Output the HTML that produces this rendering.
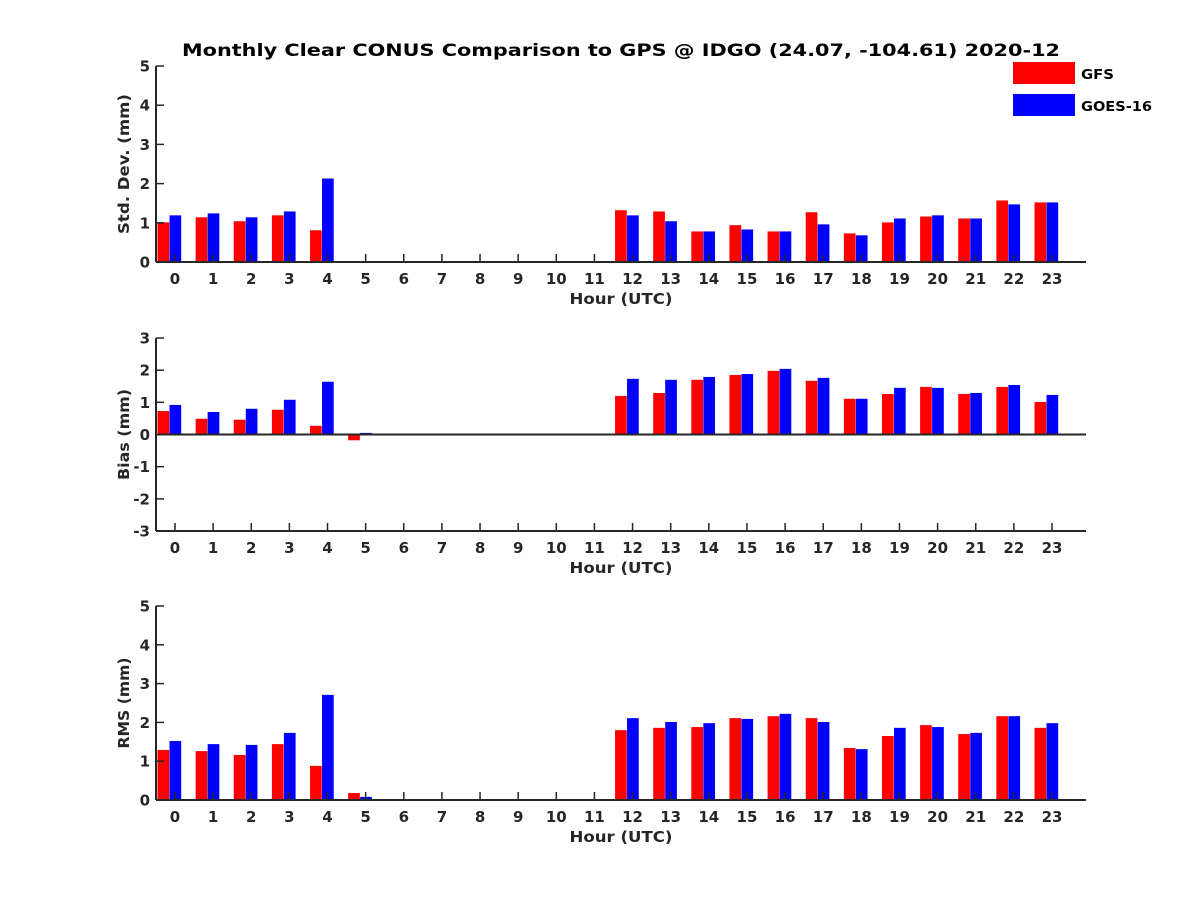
<!DOCTYPE html>
<html><head><meta charset="utf-8"><style>
body{margin:0;background:#fff;}
svg{display:block;font-family:"DejaVu Sans","Liberation Sans",sans-serif;font-weight:bold;}
</style></head><body>
<svg id="chart" width="1200" height="900" viewBox="0 0 1200 900">
<rect width="1200" height="900" fill="#fff"/>
<text x="621" y="56" text-anchor="middle" font-size="17" textLength="878" lengthAdjust="spacingAndGlyphs" fill="#000">Monthly Clear CONUS Comparison to GPS @ IDGO (24.07, -104.61) 2020-12</text>
<g>
<rect x="1013" y="62" width="62" height="22" fill="#f00"/>
<text x="1081" y="79" font-size="13" textLength="33" lengthAdjust="spacingAndGlyphs">GFS</text>
<rect x="1013" y="94" width="62" height="22" fill="#00f"/>
<text x="1081" y="111" font-size="13" textLength="71" lengthAdjust="spacingAndGlyphs">GOES-16</text>
</g>
</svg>
<script>
const hours = [0,1,2,3,4,5,6,7,8,9,10,11,12,13,14,15,16,17,18,19,20,21,22,23];
const stdGFS  = [1.01,1.14,1.04,1.19,0.81,0,0,0,0,0,0,0,1.32,1.29,0.78,0.94,0.78,1.27,0.73,1.01,1.16,1.11,1.57,1.52];
const stdGOES = [1.19,1.24,1.14,1.29,2.13,0,0,0,0,0,0,0,1.19,1.04,0.78,0.83,0.78,0.96,0.68,1.11,1.19,1.11,1.47,1.52];
const biasGFS  = [0.73,0.49,0.46,0.77,0.27,-0.18,0,0,0,0,0,0,1.20,1.29,1.70,1.85,1.98,1.67,1.11,1.26,1.48,1.26,1.48,1.01];
const biasGOES = [0.92,0.70,0.80,1.08,1.64,0.05,0,0,0,0,0,0,1.73,1.70,1.79,1.88,2.04,1.76,1.11,1.45,1.45,1.29,1.54,1.23];
const rmsGFS  = [1.29,1.26,1.16,1.44,0.88,0.18,0,0,0,0,0,0,1.80,1.86,1.88,2.11,2.16,2.11,1.34,1.65,1.93,1.70,2.16,1.86];
const rmsGOES = [1.52,1.44,1.42,1.73,2.71,0.08,0,0,0,0,0,0,2.11,2.01,1.98,2.09,2.22,2.01,1.31,1.86,1.88,1.73,2.16,1.98];
const stdTicks = [0,1,2,3,4,5];
const biasTicks = [-3,-2,-1,0,1,2,3];
const rmsTicks = [0,1,2,3,4,5];

const NS="http://www.w3.org/2000/svg";
const svg=document.getElementById('chart');
function mk(tag,attrs,parent){const e=document.createElementNS(NS,tag);for(const k in attrs)e.setAttribute(k,attrs[k]);(parent||svg).appendChild(e);return e;}
const X0=156,X1=1086;
function xs(h){return 175+h*(1052-175)/23;}

function panel(name,top,bottom,ymin,ymax,ticks,ylabel,ylen,red,blue){
  const g=mk('g',{});
  
  
  const ys=v=>bottom-(v-ymin)/(ymax-ymin)*(bottom-top);
  const y0=ys(Math.max(0,ymin));
  hours.forEach((h,i)=>{
    const c=xs(h);
    [[red[i],'#f00',c-17.5,'gfs'],[blue[i],'#00f',c-5.5,'goes16']].forEach(([v,col,x,s])=>{
      if(v===0)return;
      const yv=ys(v);
      const r=mk('rect',{x:x,y:Math.min(yv,y0),width:11.7,height:Math.abs(yv-y0),fill:col},g);
      
      
    });
  });
  const ax=mk('g',{stroke:'#262626','stroke-width':2},g);
  
  
  mk('line',{x1:X0,y1:top,x2:X0,y2:bottom},ax);
  mk('line',{x1:X0,y1:bottom,x2:X1,y2:bottom},ax);
  if(ymin<0){mk('line',{x1:X0,y1:y0,x2:X1,y2:y0},ax);}
  ticks.forEach(t=>{
    const y=ys(t);
    mk('line',{x1:X0,y1:y,x2:X0+8,y2:y,'stroke-width':1.5},ax);
    const tx=mk('text',{x:X0-6,y:y+5.5,'text-anchor':'end','font-size':15,fill:'#262626'},g);
    tx.textContent=t;
    
    
  });
  hours.forEach(h=>{
    const x=xs(h);
    mk('line',{x1:x,y1:bottom,x2:x,y2:bottom-8,'stroke-width':1.5},ax);
    const tx=mk('text',{x:x,y:bottom+22,'text-anchor':'middle','font-size':15,fill:'#262626'},g);
    tx.textContent=h;
    
    
  });
  const xl=mk('text',{x:621,y:bottom+42,'text-anchor':'middle','font-size':15,fill:'#262626',textLength:103,lengthAdjust:'spacingAndGlyphs'},g);
  xl.textContent='Hour (UTC)';
  
  
  const cy=(top+bottom)/2;
  const yl=mk('text',{x:129,y:cy,'text-anchor':'middle','font-size':15,fill:'#262626',textLength:ylen,lengthAdjust:'spacingAndGlyphs',transform:'rotate(-90 129 '+cy+')'},g);
  yl.textContent=ylabel;
  
  
}
panel('std-dev',66,262,0,5,stdTicks,'Std. Dev. (mm)',140,stdGFS,stdGOES);
panel('bias',338,531,-3,3,biasTicks,'Bias (mm)',91,biasGFS,biasGOES);
panel('rms',606,800,0,5,rmsTicks,'RMS (mm)',91,rmsGFS,rmsGOES);
</script>
</body></html>
